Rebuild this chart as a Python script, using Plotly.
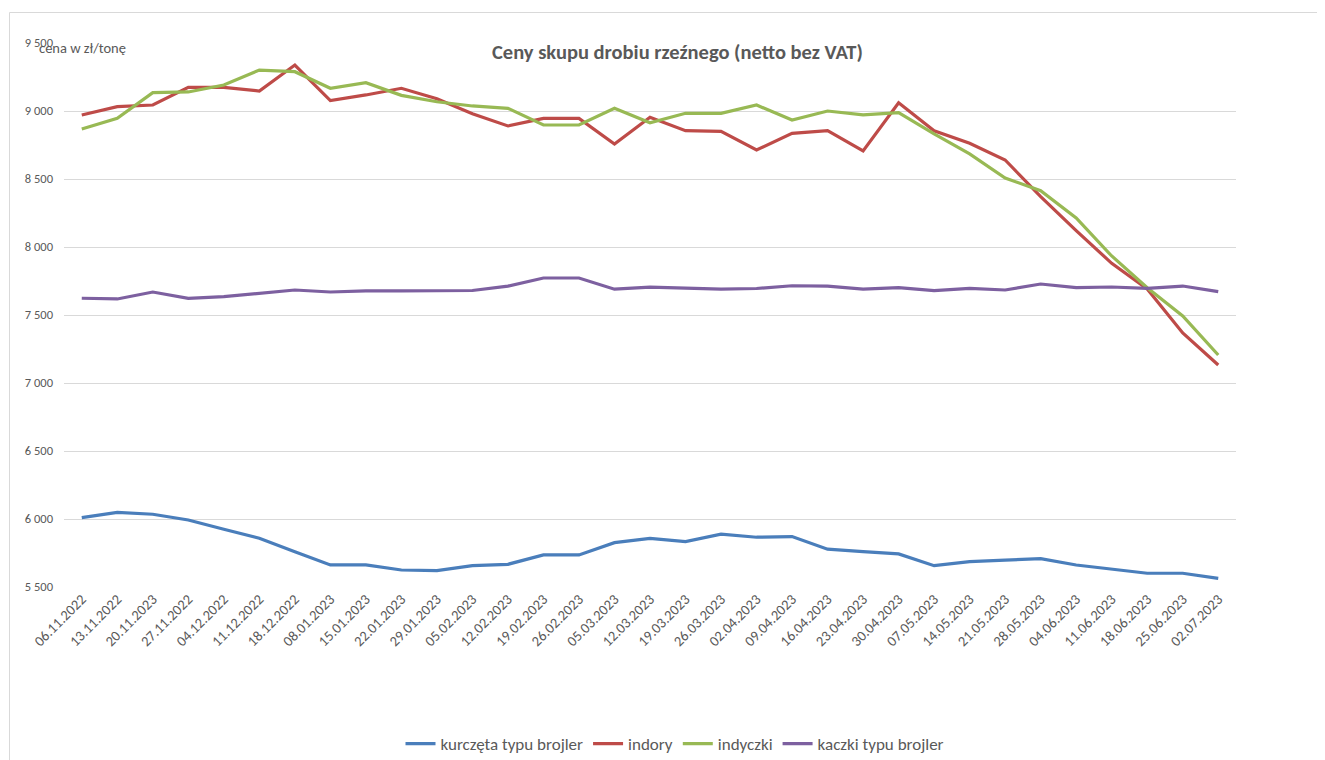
import plotly.graph_objects as go

dates = ["06.11.2022", "13.11.2022", "20.11.2023", "27.11.2022", "04.12.2022", "11.12.2022",
         "18.12.2022", "08.01.2023", "15.01.2023", "22.01.2023", "29.01.2023", "05.02.2023",
         "12.02.2023", "19.02.2023", "26.02.2023", "05.03.2023", "12.03.2023", "19.03.2023",
         "26.03.2023", "02.04.2023", "09.04.2023", "16.04.2023", "23.04.2023", "30.04.2023",
         "07.05.2023", "14.05.2023", "21.05.2023", "28.05.2023", "04.06.2023", "11.06.2023",
         "18.06.2023", "25.06.2023", "02.07.2023"]

kurczeta = [6010, 6049, 6035, 5993, 5925, 5858, 5760, 5662, 5662, 5625, 5620, 5657, 5667,
            5736, 5736, 5826, 5858, 5834, 5888, 5866, 5871, 5778, 5760, 5743, 5657, 5686,
            5698, 5708, 5662, 5630, 5601, 5601, 5564]
indory = [8971, 9032, 9044, 9174, 9174, 9147, 9338, 9076, 9118, 9167, 9090, 8980, 8890,
          8946, 8946, 8757, 8954, 8855, 8850, 8713, 8836, 8855, 8706, 9061, 8855, 8763,
          8640, 8370, 8120, 7880, 7691, 7368, 7132]
indyczki = [8868, 8946, 9135, 9140, 9191, 9301, 9289, 9167, 9208, 9115, 9068, 9037, 9020,
            8897, 8897, 9020, 8914, 8983, 8983, 9044, 8934, 9000, 8971, 8988, 8831, 8684,
            8507, 8414, 8213, 7934, 7700, 7493, 7206]
kaczki = [7623, 7618, 7669, 7623, 7635, 7660, 7684, 7669, 7677, 7677, 7677, 7680, 7712,
          7772, 7772, 7690, 7705, 7700, 7690, 7695, 7715, 7712, 7690, 7701, 7679, 7696,
          7684, 7728, 7701, 7706, 7696, 7713, 7672]

series = [
    ("kurczęta typu brojler", kurczeta, "#4A7EBB"),
    ("indory", indory, "#BE4B48"),
    ("indyczki", indyczki, "#98B954"),
    ("kaczki typu brojler", kaczki, "#7D60A0"),
]

FONT = "Calibri, Carlito, Lato, sans-serif"
GRAY = "#595959"

fig = go.Figure()
for name, vals, col in series:
    fig.add_trace(go.Scatter(x=dates, y=vals, name=name, mode="lines",
                             line=dict(color=col, width=3.2)))

# page offset of the figure inside the browser (body margin)
OFF = 8
W, H = 1310, 752
# plot area in screen pixels: x 64..1236, y 43..587
L = 64 - OFF
T = 43 - OFF
R = W - (1236 - OFF)
B = H - (587 - OFF)
pw, ph = W - L - R, H - T - B


def px(x):
    return (x - OFF - L) / pw


def py(y):
    return (H - B - (y - OFF)) / ph


fig.update_layout(
    width=W, height=H,
    margin=dict(l=L, r=R, t=T, b=B, autoexpand=False),
    paper_bgcolor="white", plot_bgcolor="white",
    separators=", ",
    font=dict(family=FONT, color=GRAY, size=12),
    showlegend=True,
    legend=dict(orientation="h", xref="container", yref="container",
                x=(675 - OFF) / W, y=1 - (744 - OFF) / H,
                xanchor="center", yanchor="middle",
                font=dict(size=17, color=GRAY), itemwidth=30, tracegroupgap=0),
    xaxis=dict(type="category", range=[-0.5, len(dates) - 0.5], showgrid=False,
               tickangle=-45, tickfont=dict(size=14.5, color=GRAY), showline=False,
               ticks="", automargin=False),
    yaxis=dict(range=[5500, 9500], dtick=500, tickformat=",d", showgrid=True,
               gridcolor="#D9D9D9", gridwidth=1, zeroline=False, showline=False,
               tickfont=dict(size=12.5, color=GRAY), ticklabelstandoff=10,
               automargin=False),
    annotations=[
        dict(text="<b>Ceny skupu drobiu rzeźnego (netto bez VAT)</b>", xref="paper", yref="paper",
             x=px(677), y=py(52), xanchor="center", yanchor="middle", showarrow=False,
             font=dict(size=20.5, color=GRAY, family=FONT)),
        dict(text="cena w zł/tonę", xref="paper", yref="paper",
             x=px(37), y=py(48), xanchor="left", yanchor="middle", showarrow=False,
             font=dict(size=14.5, color=GRAY, family=FONT)),
    ],
    shapes=[
        dict(type="line", xref="paper", yref="paper", x0=px(9.5), x1=px(1330),
             y0=py(12.5), y1=py(12.5), line=dict(color="#D9D9D9", width=1)),
        dict(type="line", xref="paper", yref="paper", x0=px(9.5), x1=px(9.5),
             y0=py(12.5), y1=py(765), line=dict(color="#D9D9D9", width=1)),
    ],
)

fig.write_html("out.html")
